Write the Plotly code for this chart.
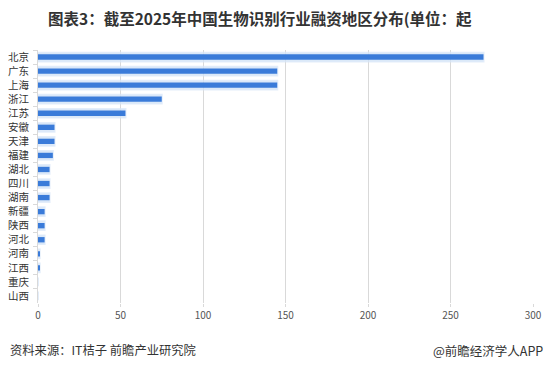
import plotly.graph_objects as go

regions = ["北京", "广东", "上海", "浙江", "江苏", "安徽", "天津", "福建", "湖北",
           "四川", "湖南", "新疆", "陕西", "河北", "河南", "江西", "重庆", "山西"]
counts = [270, 145, 145, 75, 53, 10, 10, 9, 7, 7, 7, 4, 4, 4, 1, 1, 0, 0]
x_ticks = [0, 50, 100, 150, 200, 250, 300]

title_text = "图表3：截至2025年中国生物识别行业融资地区分布(单位：起"
source_text = "资料来源：IT桔子 前瞻产业研究院"
brand_text = "@前瞻经济学人APP"

font_cjk = "Noto Sans CJK SC"

W, H = 549, 369
ML, MR, MT, MB = 38, 16, 50, 66

fig = go.Figure()
# soft halo behind each bar
fig.add_trace(go.Bar(
    y=regions, x=counts, orientation="h",
    marker=dict(color="rgba(200,222,245,0.6)", line=dict(color="rgba(215,230,248,0.7)", width=2)),
    width=0.62, hoverinfo="skip", showlegend=False,
))
fig.add_trace(go.Bar(
    y=regions, x=counts, orientation="h",
    marker=dict(color="#3a7bd9", line=dict(width=0)),
    width=0.38, showlegend=False,
))


def px_to_paper(px, py):
    return (px - ML) / (W - ML - MR), (H - MB - py) / (H - MT - MB)


tx, ty = px_to_paper(260, 18)
sx, sy = px_to_paper(8, 350)
bx, by = px_to_paper(545, 350)

fig.update_layout(
    width=W, height=H,
    margin=dict(l=ML, r=MR, t=MT, b=MB, autoexpand=False),
    barmode="overlay",
    plot_bgcolor="white", paper_bgcolor="white",
    font=dict(family=font_cjk, color="#333333"),
    xaxis=dict(
        range=[0, 300], tickvals=x_ticks, showgrid=True, gridcolor="#d9d9d9", gridwidth=1,
        zeroline=False, showline=False, ticks="outside", ticklen=3, tickcolor="#d9d9d9",
        tickfont=dict(size=10, color="#555555", family=font_cjk), fixedrange=True,
    ),
    yaxis=dict(
        autorange="reversed", categoryorder="array", categoryarray=regions,
        showline=True, linecolor="#d9d9d9", linewidth=1, showgrid=False,
        ticks="outside", tickson="boundaries", ticklen=4, tickcolor="#d9d9d9",
        ticklabelstandoff=6,
        tickfont=dict(size=10.5, color="#333333", family=font_cjk), fixedrange=True,
    ),
    annotations=[
        dict(text="<b>" + title_text + "</b>", x=tx, y=ty, xref="paper", yref="paper",
             showarrow=False, font=dict(size=15.5, color="#333333", family=font_cjk),
             xanchor="center", yanchor="middle"),
        dict(text=source_text, x=sx, y=sy, xref="paper", yref="paper",
             showarrow=False, font=dict(size=12.3, color="#333333", family=font_cjk),
             xanchor="left", yanchor="middle"),
        dict(text=brand_text, x=bx, y=by, xref="paper", yref="paper",
             showarrow=False, font=dict(size=12.5, color="#333333", family=font_cjk),
             xanchor="right", yanchor="middle"),
    ],
)

fig.write_html("out.html", config={"displayModeBar": False},
               post_script="document.body.style.margin='0';")
